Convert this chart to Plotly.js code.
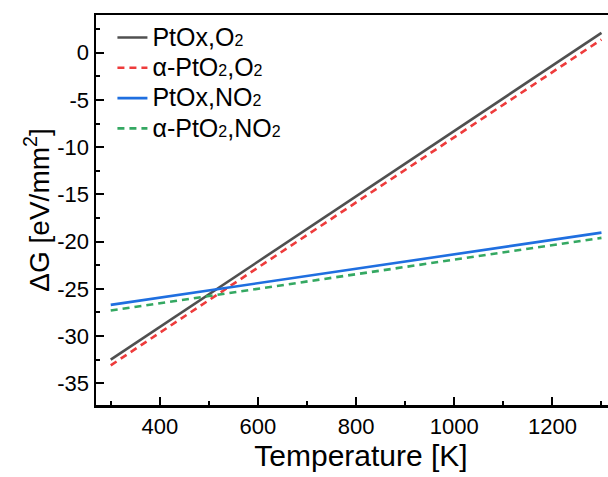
<!DOCTYPE html>
<html>
<head>
<meta charset="utf-8">
<script src="https://cdn.plot.ly/plotly-3.0.1.min.js"></script>
<style>
html,body{margin:0;padding:0;overflow:hidden;background:#fff;width:608px;height:477px;}
#chart{width:640px;height:477px;}
</style>
</head>
<body>
<div id="chart"></div>
<script>
const temperature = [300, 1300];
const ptoxO2 = [-32.5, 2.1];
const alphaPtO2O2 = [-33.1, 1.4];
const ptoxNO2 = [-26.7, -19.05];
const alphaPtO2NO2 = [-27.3, -19.6];

const xTickVals = [400, 600, 800, 1000, 1200];
const xTickText = ['400', '600', '800', '1000', '1200'];
const yTickVals = [0, -5, -10, -15, -20, -25, -30, -35];
const yTickText = ['0', '-5', '-10', '-15', '-20', '-25', '-30', '-35'];

const big = s => '<span style="font-size:25px">' + s + '</span>';
const sub2 = '<span style="font-size:16px">2</span>';
const names = [
  big('PtOx,O' + sub2),
  big('\u03b1-PtO' + sub2 + ',O' + sub2),
  big('PtOx,NO' + sub2),
  big('\u03b1-PtO' + sub2 + ',NO' + sub2)
];

const traces = [
  {x: temperature, y: ptoxO2, name: names[0], mode: 'lines', line: {color: '#505050', width: 2.6}},
  {x: temperature, y: alphaPtO2O2, name: names[1], mode: 'lines', line: {color: '#ee3b3b', width: 2.6, dash: '7px,5px'}},
  {x: temperature, y: ptoxNO2, name: names[2], mode: 'lines', line: {color: '#1f6fe0', width: 2.6}},
  {x: temperature, y: alphaPtO2NO2, name: names[3], mode: 'lines', line: {color: '#34a862', width: 2.6, dash: '7px,5px'}}
];

const font = 'Liberation Sans, Arial, sans-serif';
const layout = {
  width: 640, height: 477,
  margin: {l: 96, r: 14, t: 15, b: 72},
  paper_bgcolor: '#fff', plot_bgcolor: '#fff',
  font: {family: font, color: '#000'},
  showlegend: true,
  legend: {x: 0.031, y: 0.994, xanchor: 'left', yanchor: 'top', bgcolor: 'rgba(0,0,0,0)',
           font: {size: 21, family: font}, tracegroupgap: 0},
  xaxis: {
    range: [270, 1350], showgrid: false, zeroline: false,
    showline: true, linecolor: '#000', linewidth: 2.5, mirror: true,
    ticks: 'inside', ticklen: 8, tickwidth: 2, tickcolor: '#000',
    tickmode: 'array', tickvals: xTickVals, ticktext: xTickText,
    minor: {tickvals: [300, 500, 700, 900, 1100, 1300], ticks: 'inside', ticklen: 4, tickwidth: 2, tickcolor: '#000'},
    tickfont: {size: 22, family: font},
    title: {text: 'Temperature [K]', font: {size: 30, family: font}, standoff: 6}
  },
  yaxis: {
    range: [-37.3, 4], showgrid: false, zeroline: false,
    showline: true, linecolor: '#000', linewidth: 2.5, mirror: true,
    ticks: 'inside', ticklen: 8, tickwidth: 2, tickcolor: '#000',
    tickmode: 'array', tickvals: yTickVals, ticktext: yTickText,
    minor: {tickvals: [2.5, -2.5, -7.5, -12.5, -17.5, -22.5, -27.5, -32.5], ticks: 'inside', ticklen: 4, tickwidth: 2, tickcolor: '#000'},
    tickfont: {size: 22, family: font},
    title: {text: '\u0394G [eV/mm<sup>2</sup>]', font: {size: 28, family: font}, standoff: 0}
  }
};

Plotly.newPlot('chart', traces, layout, {staticPlot: true, displayModeBar: false});
</script>
</body>
</html>
